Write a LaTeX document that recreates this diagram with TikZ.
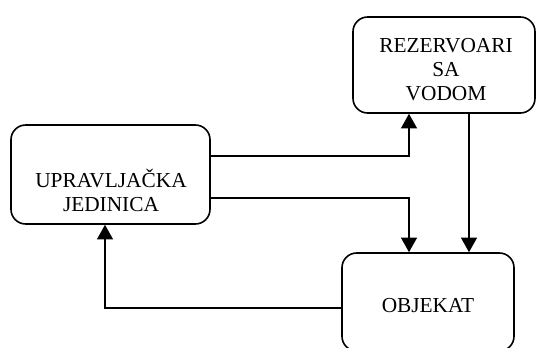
\documentclass[tikz,border=0pt]{standalone}
\usepackage{fontspec}
\setmainfont{Liberation Serif}
\usetikzlibrary{arrows.meta,calc}
\definecolor{LineClr}{rgb}{0,0,0}

\begin{document}
\begin{tikzpicture}[x=0.75pt,y=-0.75pt,
  blok/.style={draw=LineClr,line width=1.2pt,rounded corners=11pt,inner sep=0pt},
  natpis/.style={align=center,inner sep=0pt,font=\fontsize{16}{18}\selectfont},
  tok/.style={draw=LineClr,line width=1.2pt,-{Triangle[width=12pt,length=11pt]}}]
\useasboundingbox (0,0) rectangle (536,347);

\node[blok,minimum width=199*0.75pt,minimum height=99*0.75pt] (uj) at (110.5,174.5) {};
\node[blok,minimum width=182*0.75pt,minimum height=96*0.75pt] (rez) at (444,65) {};
\node[blok,minimum width=172*0.75pt,minimum height=98*0.75pt] (obj) at (428,302) {};

\node[natpis] (ujtxt) at (111,190) {UPRAVLJAČKA\\JEDINICA};
\node[natpis] (reztxt) at (446,70) {REZERVOARI\\SA\\VODOM};
\node[natpis] (objtxt) at (428,306) {OBJEKAT};

% veze
\draw[tok] (uj.east |- 0,156) -| (rez.south -| 409,0);
\draw[tok] (uj.east |- 0,198) -| (obj.north -| 409,0);
\draw[tok] (rez.south -| 469,0) -- (obj.north -| 469,0);
\draw[tok] (obj.west |- 0,308) -| (uj.south -| 105,0);

\end{tikzpicture}
\end{document}
